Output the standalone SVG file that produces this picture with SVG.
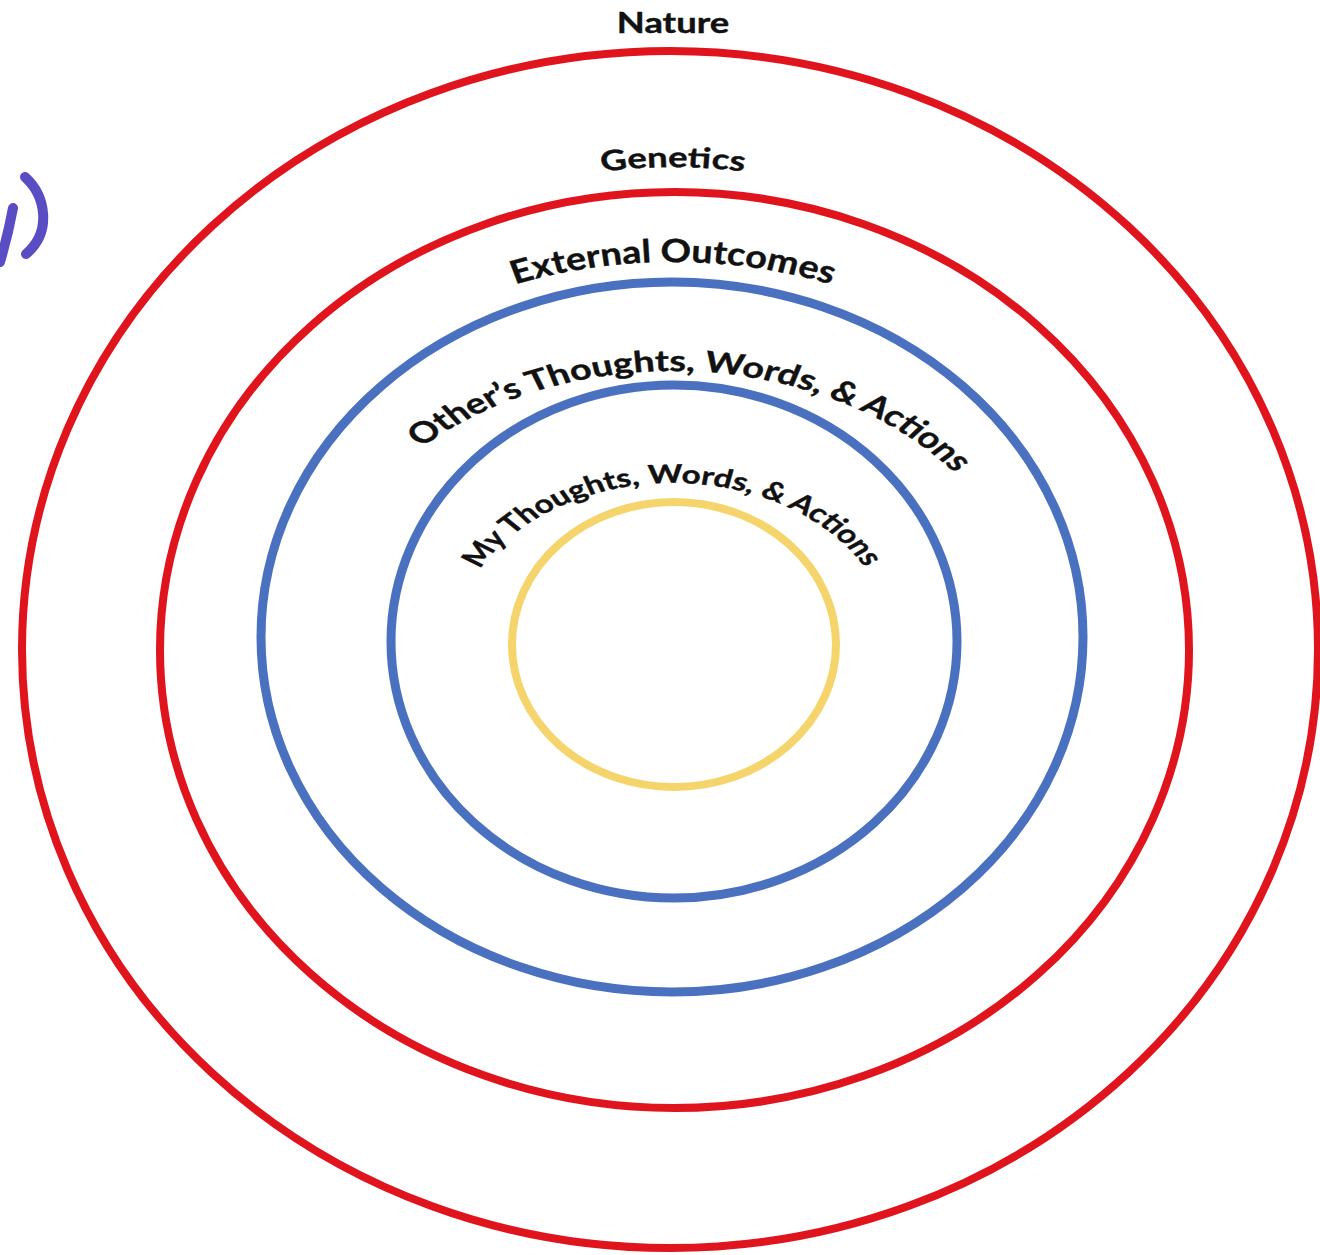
<svg xmlns="http://www.w3.org/2000/svg" width="1320" height="1255" viewBox="0 0 1320 1255">
<defs>
<style>
.ring{fill:none}
.red{stroke:#e0141c;stroke-width:8}
.blue{stroke:#4a71c0;stroke-width:9}
.yellow{stroke:#f5d46c;stroke-width:8}
.lbl{font-family:Lato,"Open Sans","Liberation Sans",sans-serif;font-weight:bold;fill:#111;stroke:#111;stroke-width:0.4}
.scribble{fill:none;stroke:#5a4cc2;stroke-width:10;stroke-linecap:round}
</style>
<path id="pGen" d="M 273 645 A 400 478 0 0 1 1073 645"/>
<path id="pExt" d="M 275 645 A 398 383 0 0 1 1071 645"/>
<path id="pOth" d="M 396 641 A 277 270 0 0 1 950 641"/>
<path id="pMy" d="M 505 645 A 168 162 0 0 1 841 645"/>
</defs>
<rect width="1320" height="1255" fill="#ffffff"/>
<g id="scribble">
<path class="scribble" d="M 13 208 Q 8 235 0 262"/>
<path class="scribble" d="M 25 177 C 46 196 52 232 26 254"/>
</g>
<g id="nature"><ellipse class="ring red" cx="670" cy="649.5" rx="648" ry="598.5"/>
<text class="lbl" font-size="28" text-anchor="middle" transform="translate(673 0) scale(1.3 1) translate(-673 0)" x="673" y="33">Nature</text></g>
<g id="genetics"><ellipse class="ring red" cx="674.5" cy="650" rx="514.5" ry="458"/>
<text class="lbl" font-size="28" text-anchor="middle" transform="translate(673 0) scale(1.3 1) translate(-673 0)"><textPath href="#pGen" startOffset="50%">Genetics</textPath></text></g>
<g id="external-outcomes"><ellipse class="ring blue" cx="672" cy="637" rx="411" ry="355"/>
<text class="lbl" font-size="32" text-anchor="middle" transform="translate(673 0) scale(1.18 1) translate(-673 0)"><textPath href="#pExt" startOffset="50%">External Outcomes</textPath></text></g>
<g id="others"><ellipse class="ring blue" cx="674" cy="641.5" rx="283" ry="256.5"/>
<text class="lbl" font-size="29" text-anchor="middle" transform="translate(673 0) scale(1.3 1) translate(-673 0)"><textPath href="#pOth" startOffset="52%">Other’s Thoughts, Words, &amp; Actions</textPath></text></g>
<g id="mine"><ellipse class="ring yellow" cx="674" cy="644.5" rx="162" ry="142.5"/>
<text class="lbl" font-size="25.5" text-anchor="middle" transform="translate(673 0) scale(1.3 1) translate(-673 0)"><textPath href="#pMy" startOffset="49.8%">My Thoughts, Words, &amp; Actions</textPath></text></g>
</svg>
